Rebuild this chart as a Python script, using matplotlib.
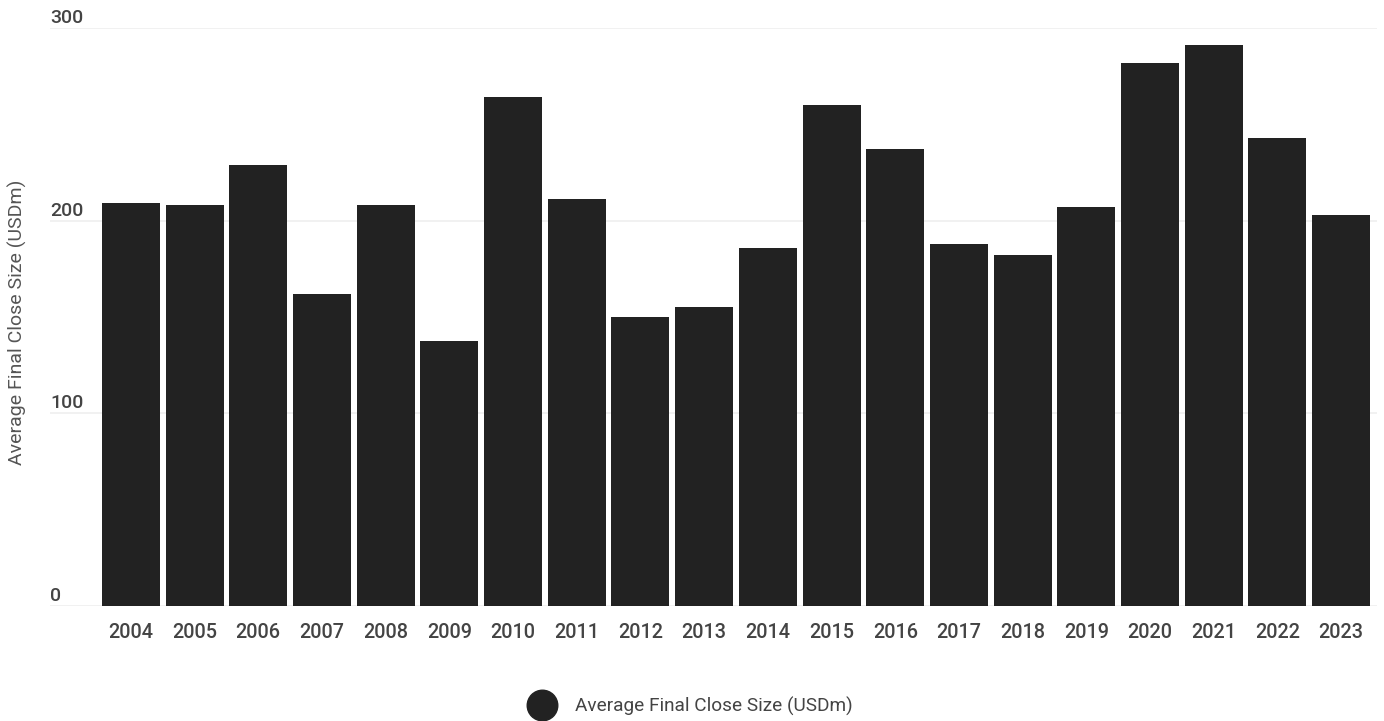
import matplotlib
matplotlib.use("Agg")
import matplotlib.pyplot as plt
from matplotlib.lines import Line2D
import matplotlib.transforms as mtransforms

years = [str(y) for y in range(2004, 2024)]
values = [209, 208, 229, 162, 208, 137.5, 264, 211, 150, 155, 186, 260, 237, 188, 182, 207, 282, 291, 243, 203]
yticks = [0, 100, 200, 300]
series_name = "Average Final Close Size (USDm)"

plt.rcParams['font.family'] = ['Roboto', 'DejaVu Sans']
W, H = 1384, 721
fig = plt.figure(figsize=(W / 100, H / 100), dpi=100)
# axes spans from x=50 to 1377 px, y from 606 (0) to 28 (300)
ax = fig.add_axes([50 / W, 1 - 606 / H, (1377 - 50) / W, (606 - 28) / H])

x = list(range(len(years)))
ax.bar(x, values, width=0.91, color="#222222", zorder=2)

step = 63.7
left = -0.5 - (99 - 50) / step
right = left + (1377 - 50) / step
ax.set_xlim(left, right)
ax.set_ylim(0, 300)

offset = mtransforms.ScaledTranslation(0, 5 / 100, fig.dpi_scale_trans)
for t in yticks:
    ax.axhline(t, color="#efefef", lw=1.2, zorder=1)
    ax.text(0, t, str(t), transform=ax.get_yaxis_transform() + offset, ha="left", va="baseline",
            fontsize=14, color="#444444", fontweight="medium")

for s in ax.spines.values():
    s.set_visible(False)
ax.set_yticks([])
ax.set_xticks(x)
ax.set_xticklabels(years, fontsize=14.3, color="#444444", fontweight="medium")
ax.tick_params(axis="x", length=0, pad=12)

fig.text(17 / W, 1 - 322 / H, series_name, rotation=90, ha="center", va="center",
         fontsize=14, color="#555555")

handle = Line2D([], [], marker="o", color="none", markerfacecolor="#222222",
                markeredgecolor="#222222", markersize=22)
fig.legend([handle], [series_name], loc="center", bbox_to_anchor=(688 / W, 1 - 706 / H),
           frameon=False, fontsize=13.7, labelcolor="#444444", handletextpad=0.7)

fig.savefig("out.png", dpi=100)
